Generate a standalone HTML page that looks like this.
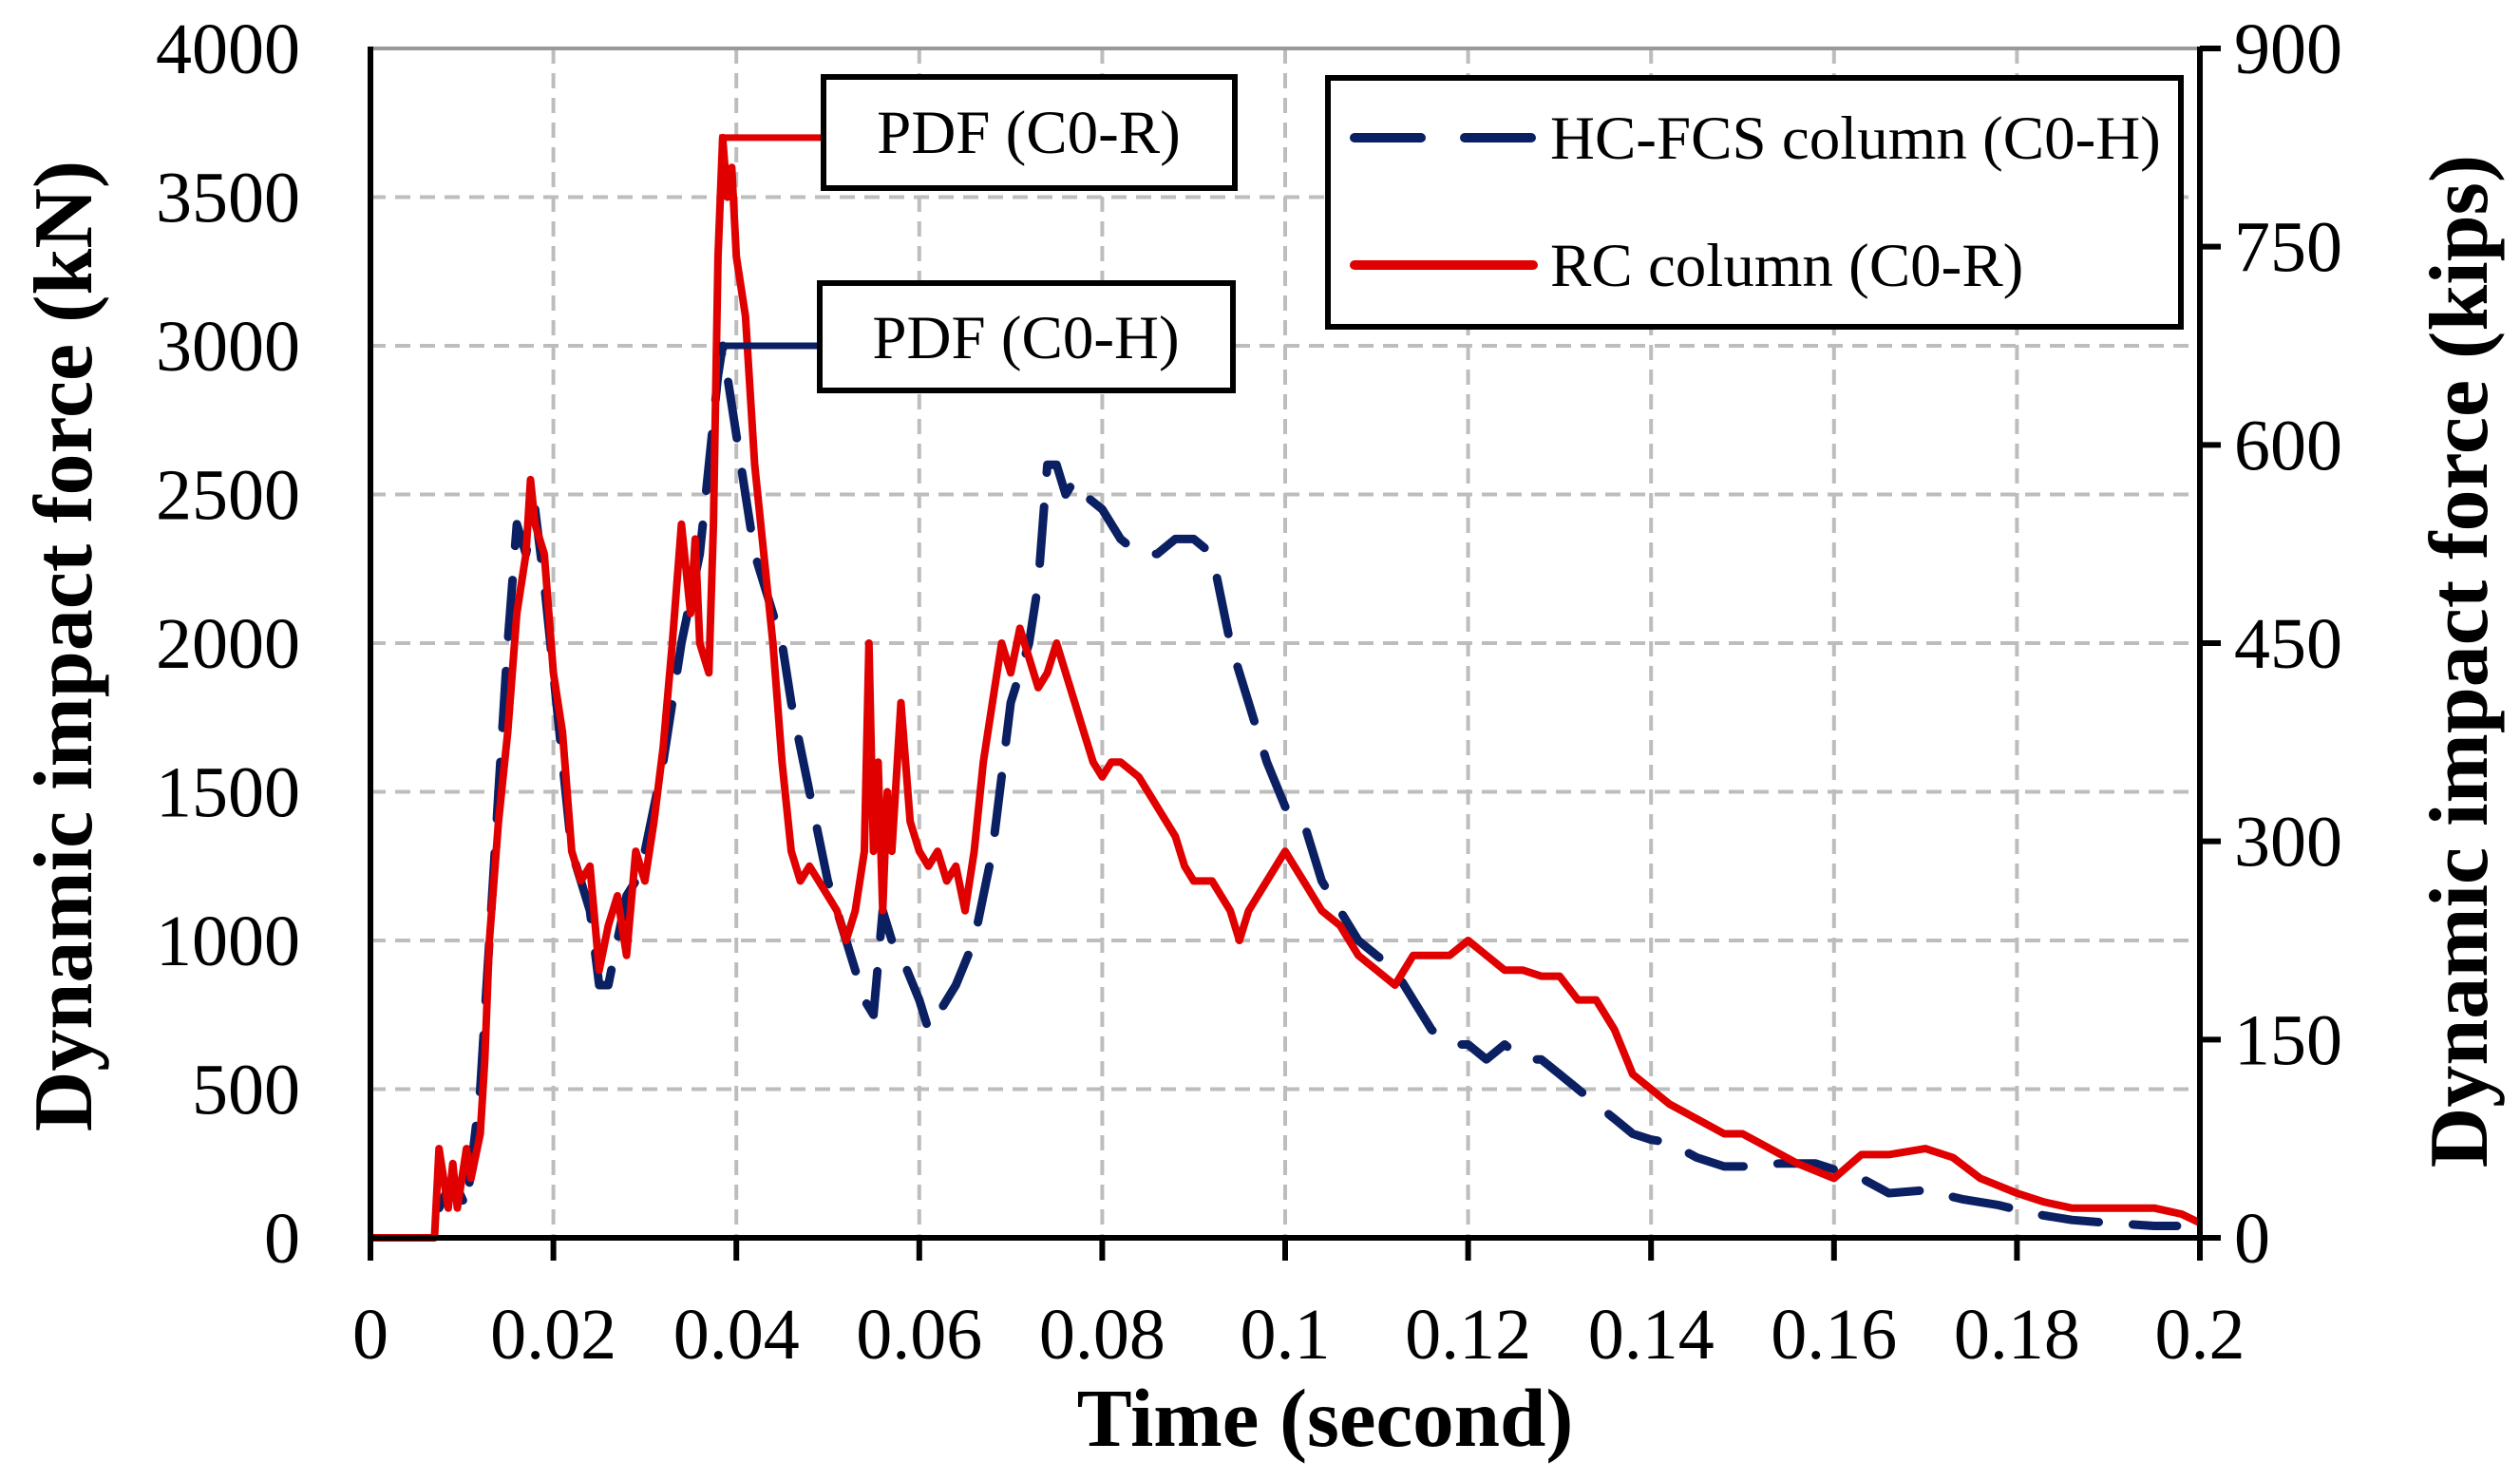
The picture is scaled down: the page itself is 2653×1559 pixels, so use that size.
<!DOCTYPE html>
<html><head><meta charset="utf-8"><style>
html,body{margin:0;padding:0;background:#fff;}
svg{display:block;font-family:"Liberation Serif",serif;}
</style></head><body>
<svg id="chart" width="2653" height="1559" viewBox="0 0 2653 1559">
<g id="grid"></g>
<g id="series"></g>
<g id="axes"></g>
<g id="annot"></g>
<text x="1395" y="1522" font-size="87" font-weight="bold" text-anchor="middle">Time (second)</text>
<text transform="translate(96,680) rotate(-90)" font-size="88" font-weight="bold" text-anchor="middle">Dynamic impact force (kN)</text>
<text transform="translate(2618,696) rotate(-90)" font-size="88" font-weight="bold" text-anchor="middle">Dynamic impact force (kips)</text>
<g>
<rect x="1398" y="82" width="898" height="262" fill="#fff" stroke="#000" stroke-width="6"/>
<line x1="1426" y1="145" x2="1614" y2="145" stroke="#0b1f63" stroke-width="10" stroke-linecap="round" stroke-dasharray="70 46"/>
<text x="1632" y="167" font-size="65">HC-FCS column (C0-H)</text>
<line x1="1426" y1="279" x2="1614" y2="279" stroke="#e00000" stroke-width="10" stroke-linecap="round"/>
<text x="1632" y="301" font-size="65">RC column (C0-R)</text>
</g>
</svg>
<script>
const redT=[0,0.007,0.0075,0.0085,0.009,0.0095,0.0105,0.011,0.012,0.0125,0.013,0.014,0.015,0.016,0.017,0.0175,0.018,0.019,0.020,0.021,0.022,0.023,0.024,0.025,0.026,0.027,0.028,0.029,0.030,0.031,0.032,0.033,0.034,0.035,0.0355,0.036,0.037,0.0375,0.038,0.0385,0.039,0.0395,0.040,0.041,0.042,0.043,0.044,0.045,0.046,0.047,0.048,0.049,0.050,0.051,0.052,0.053,0.054,0.0545,0.055,0.0555,0.056,0.0565,0.057,0.058,0.059,0.060,0.061,0.062,0.063,0.064,0.065,0.066,0.067,0.068,0.069,0.070,0.071,0.072,0.073,0.074,0.075,0.076,0.077,0.078,0.079,0.080,0.081,0.082,0.084,0.086,0.088,0.089,0.090,0.092,0.094,0.095,0.096,0.098,0.100,0.102,0.104,0.106,0.108,0.110,0.112,0.114,0.116,0.118,0.120,0.122,0.124,0.126,0.128,0.130,0.132,0.134,0.136,0.138,0.140,0.142,0.145,0.148,0.150,0.153,0.156,0.160,0.163,0.166,0.170,0.173,0.176,0.180,0.183,0.186,0.190,0.195,0.198,0.2];
const redV=[0,0,300,100,250,100,300,200,350,600,1000,1400,1700,2100,2300,2550,2400,2300,1900,1700,1300,1200,1250,900,1050,1150,950,1300,1200,1400,1650,2000,2400,2100,2350,2000,1900,2400,3300,3700,3500,3600,3300,3100,2600,2300,2000,1600,1300,1200,1250,1200,1150,1100,1000,1100,1300,2000,1300,1600,1100,1500,1300,1800,1400,1300,1250,1300,1200,1250,1100,1300,1600,1800,2000,1900,2050,1950,1850,1900,2000,1900,1800,1700,1600,1550,1600,1600,1550,1450,1350,1250,1200,1200,1100,1000,1100,1200,1300,1200,1100,1050,950,900,850,950,950,950,1000,950,900,900,880,880,800,800,700,550,500,450,400,350,350,300,250,200,280,280,300,270,200,150,120,100,100,100,80,50];
const blueT=[0.0075,0.009,0.0105,0.012,0.013,0.014,0.015,0.016,0.017,0.018,0.019,0.020,0.021,0.022,0.023,0.024,0.025,0.026,0.027,0.028,0.029,0.030,0.032,0.034,0.036,0.037,0.038,0.0385,0.039,0.040,0.041,0.042,0.043,0.044,0.045,0.046,0.048,0.050,0.052,0.053,0.054,0.055,0.056,0.057,0.058,0.060,0.061,0.062,0.064,0.066,0.068,0.070,0.072,0.073,0.074,0.075,0.076,0.077,0.078,0.080,0.082,0.084,0.086,0.088,0.090,0.092,0.094,0.096,0.098,0.100,0.102,0.104,0.106,0.108,0.110,0.112,0.114,0.116,0.118,0.120,0.122,0.124,0.126,0.128,0.130,0.132,0.134,0.136,0.138,0.140,0.142,0.145,0.148,0.150,0.154,0.158,0.160,0.163,0.166,0.170,0.174,0.178,0.182,0.186,0.190,0.195,0.1975];
const blueV=[100,200,100,500,1000,1500,2000,2400,2300,2450,2200,1900,1600,1300,1200,1100,850,850,1000,1150,1200,1300,1600,2000,2300,2600,2900,3000,2900,2700,2500,2300,2200,2100,2000,1800,1500,1200,1000,900,800,750,1100,1000,950,800,700,750,850,1000,1300,1800,2000,2200,2600,2600,2500,2550,2500,2450,2350,2300,2300,2350,2350,2300,2000,1800,1600,1450,1400,1200,1100,1000,950,900,800,700,650,650,600,650,600,600,550,500,450,400,350,330,320,270,240,240,250,250,230,200,150,160,130,110,80,60,50,40,40];
const xTicks=[0,0.02,0.04,0.06,0.08,0.1,0.12,0.14,0.16,0.18,0.2];
const xTickLabels=["0","0.02","0.04","0.06","0.08","0.1","0.12","0.14","0.16","0.18","0.2"];
const yTicks=[0,500,1000,1500,2000,2500,3000,3500,4000];
const y2Ticks=[0,150,300,450,600,750,900];
const peakR=3700, peakRT=0.0385, peakH=3000, peakHT=0.0385;

const X0=390,X1=2316,Y0=1303,Y1=51;
const xs=t=>X0+t/0.2*(X1-X0);
const ys=v=>Y0-v/4000*(Y0-Y1);
const y2s=v=>Y0-v/900*(Y0-Y1);
const NS="http://www.w3.org/2000/svg";
function mk(tag,parent,attrs){const e=document.createElementNS(NS,tag);for(const k in attrs)e.setAttribute(k,attrs[k]);parent.appendChild(e);return e;}
const grid=document.getElementById('grid'),axes=document.getElementById('axes'),ser=document.getElementById('series'),ann=document.getElementById('annot');
xTicks.forEach((t,i)=>{
 if(i>0&&i<xTicks.length-1){const g=mk('line',grid,{x1:xs(t),x2:xs(t),y1:Y1,y2:Y0,stroke:'#bdbdbd','stroke-width':4,'stroke-dasharray':'16 10'});
 
 }
 const tk=mk('line',axes,{x1:xs(t),x2:xs(t),y1:Y0,y2:Y0+24,stroke:'#000','stroke-width':6});
 
 
 const l=mk('text',axes,{x:xs(t),y:1430,'font-size':76,'text-anchor':'middle'});l.textContent=xTickLabels[i];
 
 
});
yTicks.forEach(v=>{
 if(v>0){const g=mk('line',grid,{x1:X0,x2:X1,y1:ys(v),y2:ys(v),stroke:v===4000?'#999':'#bdbdbd','stroke-width':4,'stroke-dasharray':v===4000?'none':'16 10'});
 
 }
 const l=mk('text',axes,{x:316,y:ys(v)+26,'font-size':76,'text-anchor':'end'});l.textContent=v;
 
 
});
y2Ticks.forEach(v=>{
 const tk=mk('line',axes,{x1:X1,x2:X1+22,y1:y2s(v),y2:y2s(v),stroke:'#000','stroke-width':6});
 
 
 const l=mk('text',axes,{x:2352,y:y2s(v)+26,'font-size':76});l.textContent=v;
 
 
});
const ax=mk('path',axes,{d:`M${X0},${Y1-2}V${Y0}H${X1}V${Y1-2}`,fill:'none',stroke:'#000','stroke-width':6});


function pts(T,V){return T.map((t,i)=>xs(t).toFixed(1)+','+ys(V[i]).toFixed(1)).join(' ');}
const bl=mk('polyline',ser,{points:pts(blueT,blueV),fill:'none',stroke:'#0b1f63','stroke-width':9,'stroke-linejoin':'round','stroke-linecap':'round','stroke-dasharray':'60 36'});


const rd=mk('polyline',ser,{points:pts(redT,redV),fill:'none',stroke:'#e00000','stroke-width':8,'stroke-linejoin':'round'});


const c1=mk('polyline',ann,{points:`${xs(peakRT)},${ys(peakR)+10} ${xs(peakRT)},${ys(peakR)} 866,${ys(peakR)}`,fill:'none',stroke:'#e00000','stroke-width':7});


const c2=mk('polyline',ann,{points:`${xs(peakHT)},${ys(peakH)+10} ${xs(peakHT)},${ys(peakH)} 862,${ys(peakH)}`,fill:'none',stroke:'#0b1f63','stroke-width':7});


const b1=mk('rect',ann,{x:867,y:81,width:433,height:117,fill:'#fff',stroke:'#000','stroke-width':6});


const t1=mk('text',ann,{x:1083,y:161,'font-size':65,'text-anchor':'middle'});t1.textContent='PDF (C0-R)';


const b2=mk('rect',ann,{x:863,y:298,width:435,height:113,fill:'#fff',stroke:'#000','stroke-width':6});


const t2=mk('text',ann,{x:1080,y:377,'font-size':65,'text-anchor':'middle'});t2.textContent='PDF (C0-H)';


</script>
</body></html>
